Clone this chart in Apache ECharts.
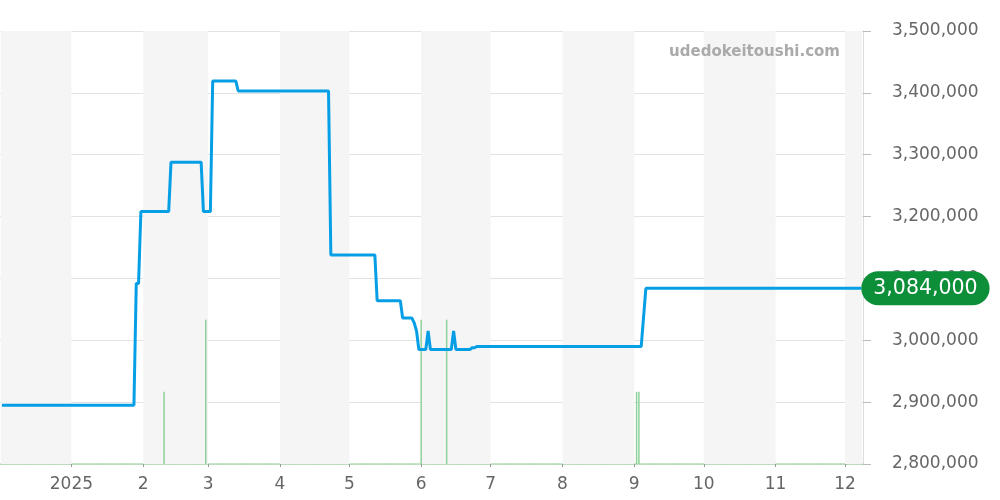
<!DOCTYPE html>
<html>
<head>
<meta charset="utf-8">
<script src="https://cdn.jsdelivr.net/npm/echarts@6/dist/echarts.min.js"></script>
<style>html,body{margin:0;padding:0;background:#fff}#c{width:1000px;height:500px}</style>
</head>
<body>
<div id="c"></div>
<script>
// Price (step-like line) data
const priceDates = [
  '2024-12-02','2025-01-28','2025-01-29','2025-01-30','2025-01-31',
  '2025-02-12','2025-02-13','2025-02-26','2025-02-27','2025-03-02','2025-03-03',
  '2025-03-13','2025-03-14','2025-04-22','2025-04-23',
  '2025-05-12','2025-05-13','2025-05-23','2025-05-24',
  '2025-05-28','2025-05-29','2025-05-30','2025-05-31',
  '2025-06-03','2025-06-04','2025-06-05',
  '2025-06-14','2025-06-15','2025-06-16',
  '2025-06-22','2025-06-23','2025-06-24','2025-06-25',
  '2025-09-04','2025-09-06','2025-12-08'
];
const priceValues = [
  2895000,2895000,3092000,3092000,3208000,
  3208000,3288000,3288000,3208000,3208000,3419000,
  3419000,3403000,3403000,3138000,
  3138000,3064000,3064000,3036000,
  3036000,3028000,3015000,2985000,
  2985000,3015000,2985000,
  2985000,3015000,2985000,
  2985000,2988000,2988000,2990000,
  2990000,3084000,3084000
];
// Volume (number of trades) data
const volumeDates = ['2025-02-10','2025-02-28','2025-06-01','2025-06-12','2025-09-02','2025-09-03'];
const volumeValues = [1,2,2,2,1,1];
// Shaded months (alternating background)
const shadedMonths = ['2024-12','2025-02','2025-04','2025-06','2025-08','2025-10','2025-12'];
// Axis ticks
const yTicks = [2800000,2900000,3000000,3100000,3200000,3300000,3400000,3500000];
const lastPriceLabel = '3,084,000';
const watermark = 'udedokeitoushi.com';

const xMin = new Date(2024,11,1,12).getTime();
const xMax = new Date(2025,11,8,10).getTime();
function parseD(s){const p=s.split('-').map(Number);return new Date(p[0],p[1]-1,p[2]||1).getTime();}

const priceData = priceDates.map((d,i)=>[parseD(d), priceValues[i]]);
const volumeData = volumeDates.map((d,i)=>[parseD(d), volumeValues[i]]);
const bands = shadedMonths.map(m=>{
  const p=m.split('-').map(Number);
  const s=Math.max(new Date(p[0],p[1]-1,1).getTime(), xMin);
  const e=Math.min(new Date(p[0],p[1],1).getTime(), xMax);
  return [{xAxis:s},{xAxis:e}];
});
const fmt = v => v.toLocaleString('en-US');
const FONT = 'DejaVu Sans';

const chart = echarts.init(document.getElementById('c'), null, {renderer:'canvas'});
chart.setOption({
  animation:false,
  backgroundColor:'#fff',
  grid:{left:0,right:137,top:31,bottom:36,containLabel:false},
  graphic:[{type:'text',right:160,top:45,z:100,style:{text:watermark,fill:'#aaaaaa',font:'bold 15px "DejaVu Sans"'}}],
  xAxis:{
    type:'time', min:xMin, max:xMax,
    minInterval:28*86400000, maxInterval:31*86400000,
    axisLine:{lineStyle:{color:'#a5d6a7',type:'dotted',width:1.5}},
    axisTick:{show:true,length:3,lineStyle:{color:'#999'}},
    splitLine:{show:false},
    axisLabel:{
      fontFamily:FONT,fontSize:17,color:'#666',margin:12,
      formatter:function(v){const d=new Date(v);return d.getMonth()===0?String(d.getFullYear()):String(d.getMonth()+1);}
    }
  },
  yAxis:[{
    type:'value', position:'right', min:yTicks[0], max:yTicks[yTicks.length-1], interval:100000,
    axisLine:{show:true,lineStyle:{color:'#dddddd'}},
    axisTick:{show:true,length:8,lineStyle:{color:'#bbbbbb'}},
    splitLine:{lineStyle:{color:'#e2e2e2'}},
    axisLabel:{fontFamily:FONT,fontSize:17,color:'#666',margin:29,formatter:fmt}
  },{
    type:'value', min:0, max:6, show:false, splitLine:{show:false}
  }],
  series:[
    {type:'line',data:[],silent:true,z:1,
     markArea:{silent:true,itemStyle:{color:'#f5f5f5'},data:bands}},
    {type:'bar',yAxisIndex:1,data:volumeData,barWidth:1.5,barGap:'0%',z:2,silent:true,
     itemStyle:{color:'#8fd19a'}},
    {type:'line',data:priceData,symbol:'none',z:3,silent:true,
     lineStyle:{color:'#069fe6',width:3},
     endLabel:{show:true,formatter:()=>lastPriceLabel,distance:0,
       color:'#fff',fontFamily:FONT,fontSize:20.5,backgroundColor:'#0d8f3a',
       borderRadius:18,padding:[7,12,6,12]}}
  ]
});
</script>
</body>
</html>
